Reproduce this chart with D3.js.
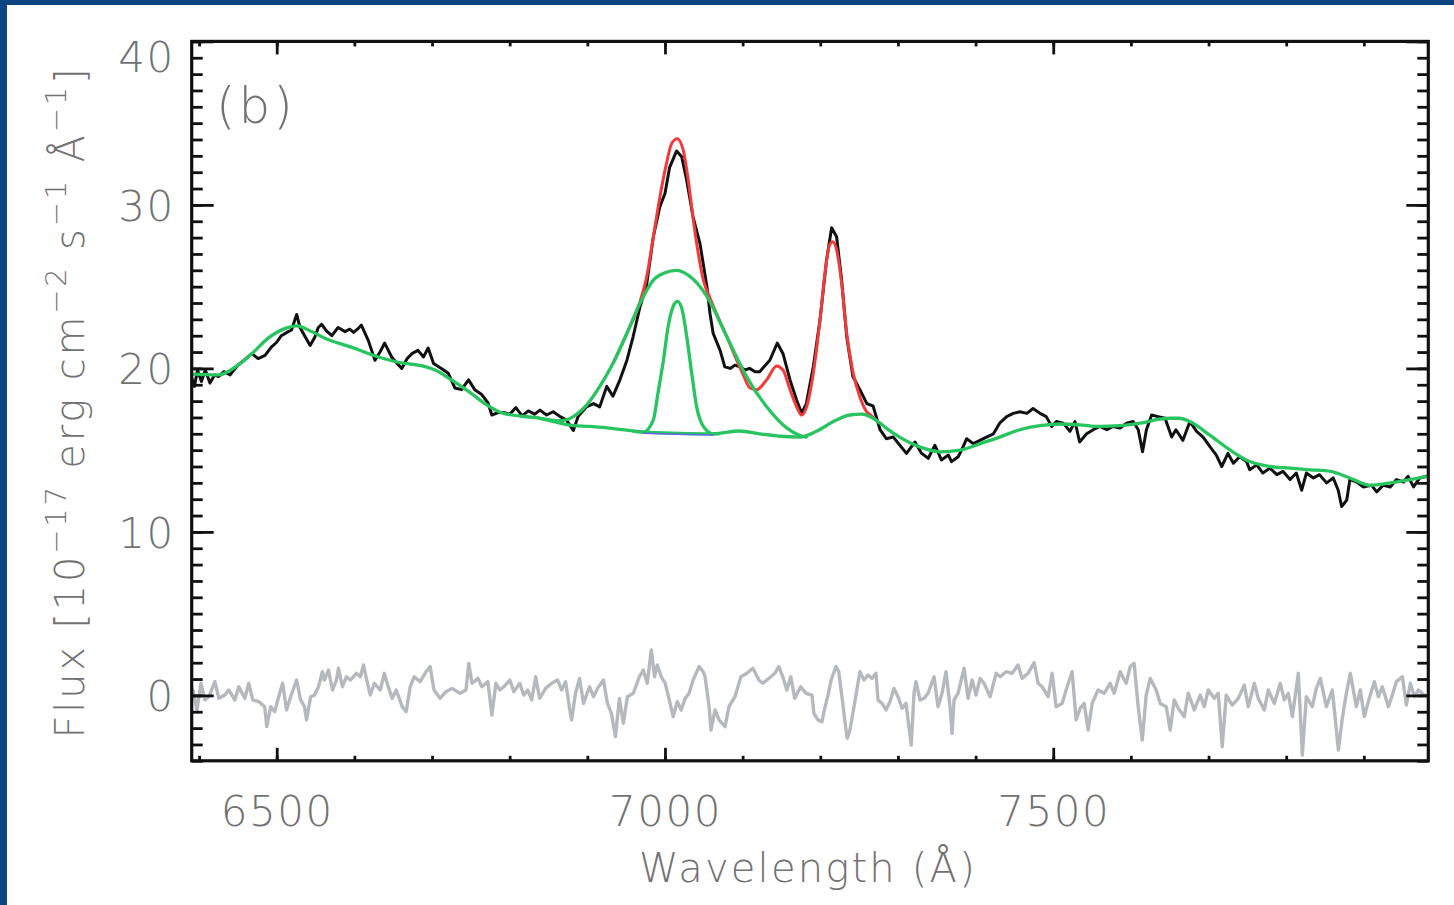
<!DOCTYPE html>
<html>
<head>
<meta charset="utf-8">
<script src="https://cdn.jsdelivr.net/npm/d3@7"></script>
<style>
  html, body { margin: 0; padding: 0; background: #ffffff; }
  svg { display: block; }
  text { font-family: "DejaVu Sans", "Liberation Sans", sans-serif; font-weight: 200; fill: #727272; }
</style>
</head>
<body>
<svg id="chart" width="1454" height="905"></svg>
<script>
// ---- Observed spectrum (wavelength in Å, flux in 1e-17 erg/cm2/s/Å) ----
const specWave = [6390,6394,6398,6403,6408,6414,6420,6425,6432,6440,6450,6458,6468,6476,6485,6493,6500,6506,6513,6519,
  6525.7,6530,6537,6543,6549,6553.5,6558,6564,6571,6579,6588,6594,6599,6604,6609,6618,6626.5,6633,6639,6648,
  6655,6661,6668,6674,6682,6689,6695,6702,6712,6721,6729.5,6738,6747,6755,6764,6772,6777,6785,6792,6800,
  6808,6816,6824,6832,6839,6847.6,6856,6865,6873,6882,6888,6899,6908,6916,6925,6933,6942,6951,6959,6968,
  6976,6985,6993.5,7000,7006,7015,7021.5,7028,7036,7045,7054,7058,7062,7071,7077,7084,7090,7096.5,7103,7109,
  7116,7122,7135,7144.6,7152,7161,7169.6,7176,7182,7191,7199.6,7208,7214.6,7221,7227.5,7234,7242,7251,7260,7268,
  7277,7285,7294,7302.5,7311,7322,7330.5,7339,7347.6,7356,7365,7369,7377.6,7382,7388.5,7397,7405.6,7414,7423,7431,
  7440,7448.5,7457,7466,7474,7483,7491,7498,7504,7513,7521.5,7528,7534,7543,7551.5,7560,7569,7577,7586,7594.5,
  7603,7609.5,7615,7620,7626.7,7635,7644,7652.5,7658,7667,7676,7684.6,7693,7702,7710,7717,7725,7732,7740,7749,
  7753,7762,7770,7779,7788,7796,7805,7813,7820,7826,7835,7843,7852,7860.6,7867,7871.4,7878,7882,7891,7899,
  7910,7916.5,7925,7934,7942,7951,7957,7964,7972,7981];
const specFlux = [19.5,18.9,19.9,19.2,19.9,19.1,19.6,19.5,19.8,19.6,20.2,20.5,20.9,20.6,20.8,21.3,21.6,22.0,22.2,22.35,
  23.3,22.5,21.9,21.4,21.9,22.5,22.7,22.3,22.0,22.5,22.25,22.4,22.2,22.4,22.65,21.7,20.5,21.0,21.55,20.7,
  20.3,20.0,20.6,20.9,21.1,20.7,21.25,20.3,20.0,19.7,18.8,18.7,19.3,18.7,18.4,17.9,17.15,17.3,17.3,17.2,
  17.6,17.1,17.4,17.2,17.45,17.15,17.35,17.05,16.85,16.2,17.05,17.65,17.85,17.65,18.9,18.3,19.3,20.5,21.95,23.8,
  25.0,28.05,29.9,30.7,32.3,33.3,32.95,31.5,29.3,27.65,25.0,23.35,22.15,21.1,20.1,20.0,20.2,20.1,19.9,20.0,
  19.8,19.8,20.5,21.55,20.9,19.3,18.05,17.25,17.85,20.1,22.95,26.6,28.6,28.05,25.4,21.95,19.5,18.7,17.85,17.7,
  16.25,15.7,15.8,15.3,14.8,15.5,14.8,14.5,15.3,14.4,14.7,14.3,14.6,15.0,15.7,15.4,15.6,15.8,16.0,16.65,
  17.05,17.25,17.35,17.25,17.55,17.25,17.05,16.45,16.75,16.65,16.15,16.75,15.5,16.0,16.25,16.45,16.25,16.45,16.35,16.65,
  16.75,16.25,14.9,16.25,17.15,17.05,16.95,15.8,16.25,15.6,16.75,16.15,15.8,15.2,14.7,14.0,14.8,14.2,14.6,14.3,
  13.8,14.1,13.6,13.9,13.5,13.7,13.2,13.6,12.55,13.6,13.3,13.5,13.0,13.3,12.55,11.55,11.95,13.2,13.05,12.75,
  12.85,12.45,12.85,12.75,13.2,13.05,13.4,12.75,13.3,13.4];

// ---- Continuum model ----
const contWave = [6390,6425,6450,6468,6489,6511,6526,6545,6562,6596,6631,6665,6682,6704,6725,6747,6768,6792,6839,6882,
  6903,6946,6972,7019,7062,7096,7122,7148,7174,7195,7217,7238,7253,7268,7277,7285,7302,7328,7354,7380,
  7406,7431,7457,7483,7509,7534,7560,7586,7612,7637,7650,7662,7676,7702,7728,7753,7779,7805,7831,7857,
  7882,7908,7934,7959,7981];
const contFlux = [19.65,19.6,20.2,20.9,21.85,22.45,22.6,22.25,21.85,21.3,20.7,20.3,20.2,19.9,19.3,18.6,17.85,17.25,16.95,16.5,
  16.45,16.25,16.1,16.03,16.0,16.17,16.0,15.85,15.8,16.15,16.75,17.15,17.2,16.95,16.65,16.35,15.8,15.2,14.9,15.0,
  15.4,15.8,16.25,16.5,16.6,16.55,16.45,16.5,16.65,16.9,16.95,16.95,16.75,15.9,15.0,14.3,14.0,13.9,13.8,13.7,
  13.3,12.85,13.0,13.2,13.4];

// ---- Broad H-alpha component ----
const broadWave = [6839,6865,6882,6899,6916,6933,6951,6968,6985,7000,7015,7030,7054,7079.5,7105,7131,7157,7174,7182];
const broadFlux = [16.95,16.8,17.05,17.75,18.9,20.3,22.15,24.0,25.4,25.85,26.0,25.7,24.4,21.95,19.5,17.65,16.35,15.9,15.8];

// ---- Narrow H-alpha component ----
const narrowWave = [6960,6972,6985,6991,6998,7004,7010.6,7016,7021.5,7028,7034.4,7040.8,7049.4,7062,7070];
const narrowFlux = [16.15,16.1,16.85,18.5,20.5,22.55,23.8,24.1,23.7,21.95,19.7,17.65,16.45,16.0,16.0];

// ---- Total fit ----
const fitWave = [6933,6951,6968,6976.4,6985,6993.5,7002,7008.6,7015.8,7023.5,7030,7036.4,7042.8,7049.4,7058,7079.5,7100,7109.4,7118,7130.9,
  7143.8,7152,7161,7169.6,7176,7182.4,7191,7199.6,7206,7212,7216,7221,7227.5,7234,7242.4,7251,7259.7,7266,7275];
const fitFlux = [20.3,22.15,24.1,25.6,28.05,30.5,32.55,33.75,34.05,33.35,31.5,29.1,27.05,25.4,24.3,21.95,19.7,18.8,18.7,19.3,
  20.15,19.9,18.7,17.65,17.15,17.65,19.7,22.95,25.8,27.55,27.75,27.25,25.2,22.15,19.7,18.25,17.35,17.1,16.7];

// ---- Local continuum under the narrow line ----
const baseWave = [6972,7015,7062];
const baseFlux = [16.03,15.98,15.93];

// ---- Residuals ----
const residWave = [6392.1,6397.3,6402.4,6407.5,6412.7,6420.4,6425.5,6433.2,6438.3,6446,6451.2,6458.9,6464,6469.1,6476.8,6484.5,6487.1,6492.2,6497.4,6502.5,
  6507.6,6512.7,6517.9,6525.6,6530.7,6535.8,6538.4,6543.6,6548.7,6553.8,6558.9,6561.5,6566.6,6571.8,6576.9,6579.5,6584.6,6589.7,6594.9,6602.6,
  6607.7,6611.8,6615.4,6620.5,6625.7,6633.4,6638.5,6643.6,6648.8,6653.9,6661.6,6666.7,6671.9,6677,6684.7,6692.4,6697.5,6702.6,6710.3,6718,
  6725.7,6736,6743.7,6747.3,6751.4,6759.1,6764.2,6771.9,6777.1,6782.2,6787.3,6792.5,6800.2,6805.3,6813,6818.1,6823.3,6828.4,6833.5,6838.6,
  6846.3,6854,6861.7,6866.9,6872,6877.1,6879.7,6884.8,6890,6895.1,6902.8,6907.9,6913.1,6920.8,6925.9,6931,6936.2,6941.3,6946.4,6951.6,
  6959.3,6967,6972.1,6977.2,6982.4,6986.5,6990.1,6995.2,7000.3,7005.5,7010.6,7015.7,7020.9,7026,7031.1,7036.2,7043.9,7049.1,7051.6,7056.8,
  7059.3,7064.5,7069.6,7077.3,7082.4,7090.1,7097.8,7105.5,7113.2,7120.9,7126.1,7131.2,7136.3,7141.5,7146.6,7151.7,7156.9,7162,7167.1,7174.8,
  7181.5,7189.3,7191.8,7197,7202.2,7204.7,7209.9,7214,7220.2,7223.8,7227.9,7231.5,7234.6,7238.2,7243.4,7248.5,7251.1,7256.3,7261.4,7266.6,
  7271.7,7274.3,7279.5,7284.6,7289.8,7294.9,7300.1,7305.3,7310.4,7317.1,7320.7,7323.3,7328.4,7333.6,7338.8,7346.5,7351.6,7356.8,7361.9,7367.1,
  7369.7,7372.3,7377.4,7385.2,7390.3,7395.5,7400.6,7405.8,7410.9,7418.7,7426.4,7431.6,7439.3,7447,7454.7,7459.9,7467.6,7475.4,7480.5,7485.7,
  7493.4,7498.6,7503.7,7511.5,7516.6,7524.3,7529.5,7534.7,7539.8,7545,7550.1,7557.8,7565.6,7573.3,7578.5,7586.2,7593.9,7599.1,7604.2,7609.4,
  7614.6,7619.7,7624.9,7632.6,7637.8,7645.5,7650.6,7655.8,7661,7668.7,7673.8,7681.6,7689.3,7694.5,7699.6,7707.3,7712.5,7717.6,7722.8,7730.5,
  7738.3,7746,7751.2,7758.9,7764,7771.8,7776.9,7784.7,7792.4,7797.6,7802.7,7807.9,7815.6,7820.8,7825.9,7833.6,7838.8,7844,7851.7,7859.4,
  7867.2,7872.3,7877.5,7882.6,7890.3,7895.5,7900.6,7905.8,7913.5,7918.7,7923.8,7931.6,7936.7,7941.9,7949.6,7954.8,7959.9,7965.1,7970.2,7978];
const residFlux = [0.33,-0.89,0.74,-0.28,-0.08,0.84,-0.18,0.02,0.33,-0.28,0.53,-0.18,0.74,-0.28,-0.38,-0.69,-1.91,-0.69,-0.99,-0.08,
  0.74,-0.89,-0.08,0.94,-0.28,-0.69,-1.5,-0.08,0.02,0.53,1.45,0.94,1.55,0.33,0.94,1.66,0.53,1.14,0.94,1.35,
  1.14,1.86,1.04,0.02,0.74,0.33,1.35,0.53,-0.18,0.33,-0.69,-0.99,0.53,1.14,0.84,1.45,1.76,0.33,-0.18,0.23,
  0.43,0.13,0.33,1.96,0.74,1.04,0.53,0.84,-1.2,0.74,0.33,0.53,0.94,0.23,0.74,0.02,0.33,-0.28,1.14,-0.18,
  0.43,0.74,0.94,0.33,0.84,-0.79,-1.5,0.13,1.04,-0.49,0.53,-0.08,0.43,0.94,-0.49,-1.1,-2.52,-0.18,-1.71,-0.08,
  0.13,1.14,1.55,0.74,2.78,1.14,1.86,1.14,0.74,-0.28,-1.3,-0.38,-0.89,-0.18,0.13,0.94,1.76,1.45,1.14,-0.69,
  -2.12,-0.89,-1.5,-1.91,-0.69,-0.08,1.14,1.35,1.66,0.94,0.74,0.94,1.14,1.35,1.76,1.14,0.33,1.14,-0.18,0.53,
  0.13,0.02,-1.1,-1.5,-1.61,-0.99,0.02,0.94,1.76,1.45,-0.08,-1.5,-2.63,-2.12,-0.69,0.74,1.45,0.94,1.25,1.04,
  1.35,-0.28,-0.49,-0.89,-0.38,0.43,-0.08,-0.79,-0.49,-3.04,0.13,0.84,-0.28,-0.18,0.13,1.14,-0.69,0.13,1.45,-0.69,
  -2.32,-0.28,0.13,1.66,-0.18,0.94,0.02,1.04,0.74,-0.08,1.35,1.14,1.45,1.35,1.86,1.04,1.35,2.0,0.74,0.53,
  -0.08,1.35,-0.69,-0.49,0.33,1.45,-1.5,-0.79,-0.49,-2.12,-0.49,0.33,0.13,0.74,0.13,1.45,0.74,1.76,1.96,-0.69,
  -2.73,0.02,1.04,0.33,-0.49,-0.69,-2.12,-0.28,-0.79,-1.3,0.13,-0.89,0.02,-0.69,0.33,-0.18,0.13,-3.14,0.02,-0.59,
  -0.18,0.63,-0.69,0.74,-0.18,-0.89,0.33,-0.49,0.74,-0.28,0.13,-1.3,1.35,-3.65,-0.08,-0.69,0.43,1.04,-0.69,0.33,
  -3.34,-1.4,0.13,1.35,-0.69,0.33,-1.3,-0.38,0.84,-0.08,0.53,-0.69,0.02,0.84,1.14,-0.59,0.74,-0.08,0.33,0.02];

// ---- Axis ticks ----
const xMajorTicks = [6500, 7000, 7500];
const xMinorTicks = d3.range(6400, 7901, 100);
const yMajorTicks = [0, 10, 20, 30, 40];
const yMinorTicks = d3.range(-4, 41, 1);

const svg = d3.select("#chart");

// window border strips
svg.append("rect").attr("x", 0).attr("y", 0).attr("width", 1454).attr("height", 5).attr("fill", "#0c4482");
svg.append("rect").attr("x", 0).attr("y", 0).attr("width", 7).attr("height", 905).attr("fill", "#0c4482");

const x = d3.scaleLinear().domain([6390.5, 7983]).range([191.7, 1428.3]);
const y = d3.scaleLinear().domain([-4, 40]).range([760.8, 41.4]);

const [x0, x1] = x.range();
const [yb, yt] = y.range();

svg.append("clipPath").attr("id", "plotClip")
  .append("rect").attr("x", x0).attr("y", yt).attr("width", x1 - x0).attr("height", yb - yt);

const plot = svg.append("g").attr("clip-path", "url(#plotClip)");

const line = d3.line().x(d => x(d[0])).y(d => y(d[1]));
const smooth = d3.line().x(d => x(d[0])).y(d => y(d[1])).curve(d3.curveMonotoneX);

function draw(gen, xs, ys, color, width) {
  plot.append("path")
    .datum(d3.zip(xs, ys))
    .attr("d", gen)
    .attr("fill", "none")
    .attr("stroke", color)
    .attr("stroke-width", width)
    .attr("stroke-linejoin", "round")
    .attr("stroke-linecap", "round");
}

draw(line, residWave, residFlux, "#b5b9be", 3.4);
draw(line, specWave, specFlux, "#111111", 3);
draw(smooth, fitWave, fitFlux, "#f23a3a", 3);
draw(smooth, contWave, contFlux, "#27c45f", 3.3);
draw(smooth, broadWave, broadFlux, "#27c45f", 3.3);
draw(smooth, narrowWave, narrowFlux, "#27c45f", 3.3);
draw(line, baseWave, baseFlux, "#6565e6", 1.5);

// ---- Axes (ticks point inward) ----
function styleAxis(g) {
  g.select(".domain").remove();
  g.selectAll(".tick line").attr("stroke", "#111").attr("stroke-width", 2.8);
}

svg.append("g").attr("transform", `translate(0,${yb})`)
  .call(d3.axisBottom(x).tickValues(xMinorTicks).tickSize(-5).tickFormat(""))
  .call(styleAxis);
const xAxisMajor = svg.append("g").attr("transform", `translate(0,${yb})`)
  .call(d3.axisBottom(x).tickValues(xMajorTicks).tickSize(-13).tickFormat(d3.format("d")))
  .call(styleAxis);
xAxisMajor.selectAll(".tick text")
  .attr("y", 65).attr("dy", null)
  .attr("fill", "#727272")
  .style("font-size", "42px")
  .style("letter-spacing", "1.5px");

svg.append("g").attr("transform", `translate(0,${yt})`)
  .call(d3.axisTop(x).tickValues(xMinorTicks).tickSize(-5).tickFormat(""))
  .call(styleAxis);
svg.append("g").attr("transform", `translate(0,${yt})`)
  .call(d3.axisTop(x).tickValues(xMajorTicks).tickSize(-13).tickFormat(""))
  .call(styleAxis);

svg.append("g").attr("transform", `translate(${x0},0)`)
  .call(d3.axisLeft(y).tickValues(yMinorTicks).tickSize(-11).tickFormat(""))
  .call(styleAxis);
const yAxisMajor = svg.append("g").attr("transform", `translate(${x0},0)`)
  .call(d3.axisLeft(y).tickValues(yMajorTicks).tickSize(-22).tickFormat(d3.format("d")))
  .call(styleAxis);
yAxisMajor.selectAll(".tick text")
  .attr("x", -17)
  .attr("dy", d => d === 40 ? "0.72em" : "0.36em")
  .attr("fill", "#727272")
  .style("font-size", "42px")
  .style("letter-spacing", "1.5px");

svg.append("g").attr("transform", `translate(${x1},0)`)
  .call(d3.axisRight(y).tickValues(yMinorTicks).tickSize(-11).tickFormat(""))
  .call(styleAxis);
svg.append("g").attr("transform", `translate(${x1},0)`)
  .call(d3.axisRight(y).tickValues(yMajorTicks).tickSize(-22).tickFormat(""))
  .call(styleAxis);

// frame
svg.append("rect")
  .attr("x", x0).attr("y", yt).attr("width", x1 - x0).attr("height", yb - yt)
  .attr("fill", "none").attr("stroke", "#111").attr("stroke-width", 3.2);

// panel label
svg.append("text").attr("x", 216).attr("y", 123)
  .style("font-size", "50px").style("letter-spacing", "3px").text("(b)");

// axis titles
svg.append("text")
  .attr("x", 808).attr("y", 882)
  .attr("text-anchor", "middle")
  .style("font-size", "40px")
  .style("letter-spacing", "2.2px")
  .text("Wavelength (Å)");

const yTitle = svg.append("text")
  .attr("transform", "translate(84,402) rotate(-90)")
  .attr("text-anchor", "middle")
  .style("font-size", "40px")
  .style("letter-spacing", "2.8px");
const parts = [["Flux [10", 0], ["\u221217", 1], [" erg cm", 0], ["\u22122", 1], [" s", 0], ["\u22121", 1], [" Å", 0], ["\u22121", 1], ["]", 0]];
let raised = false;
parts.forEach(([t, sup]) => {
  const ts = yTitle.append("tspan").text(t);
  if (sup) {
    ts.style("font-size", "29px");
    if (!raised) { ts.attr("dy", -18); raised = true; }
  } else if (raised) {
    ts.attr("dy", 18); raised = false;
  }
});
</script>
</body>
</html>
